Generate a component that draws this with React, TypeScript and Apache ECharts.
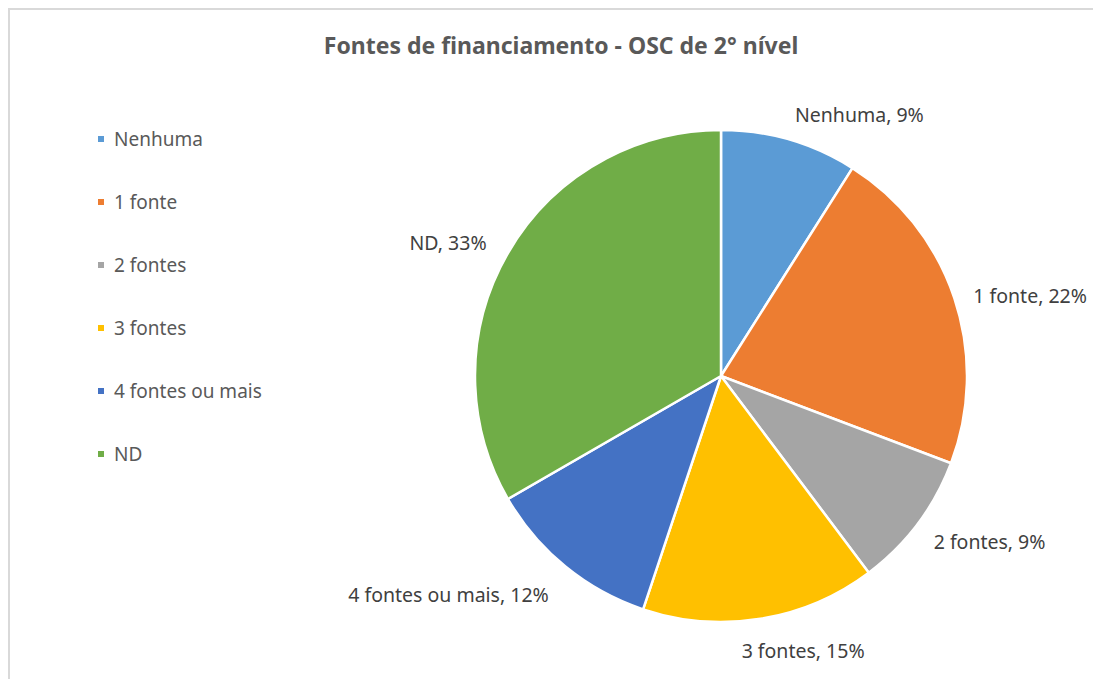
import React, { useEffect, useRef } from "react";
import * as echarts from "echarts";

const categories = ["Nenhuma", "1 fonte", "2 fontes", "3 fontes", "4 fontes ou mais", "ND"];
const counts = [7, 17, 7, 12, 9, 26];
const colors = ["#5B9BD5", "#ED7D31", "#A5A5A5", "#FFC000", "#4472C4", "#70AD47"];
const titleText = "Fontes de financiamento - OSC de 2° nível";

const CX = 711;
const CY = 366;
const R = 246;
const LABEL_GAP = 20;

const clamp = (v: number) => Math.max(0, Math.min(1, v));

export default function App() {
  const ref = useRef<HTMLDivElement>(null);
  useEffect(() => {
    document.body.style.overflow = "hidden";
    if (!ref.current) return;
    const chart = echarts.init(ref.current, undefined, { renderer: "svg" });
    const total = counts.reduce((a, b) => a + b, 0);
    const mids: number[] = [];
    let acc = 0;
    counts.forEach((v) => {
      mids.push(((acc + v / 2) / total) * Math.PI * 2);
      acc += v;
    });
    chart.setOption({
      animation: false,
      color: colors,
      textStyle: { fontFamily: "Noto Sans" },
      title: {
        text: titleText,
        left: 546,
        top: 18,
        textAlign: "center",
        textStyle: { fontSize: 23, fontWeight: "bold", color: "#595959", fontFamily: "Noto Sans" },
      },
      legend: {
        orient: "vertical",
        left: 81,
        top: 114,
        itemWidth: 8,
        itemHeight: 8,
        itemGap: 43,
        icon: "rect",
        data: categories,
        textStyle: { fontSize: 19, color: "#595959", lineHeight: 20, padding: [0, 0, 0, 4] },
      },
      series: [
        {
          type: "pie",
          center: [CX, CY],
          radius: R,
          startAngle: 90,
          clockwise: true,
          percentPrecision: 0,
          itemStyle: { borderColor: "#ffffff", borderWidth: 2.5 },
          label: {
            show: true,
            position: "outside",
            formatter: "{b}, {d}%",
            fontSize: 19.5,
            color: "#404040",
            overflow: "none",
          },
          labelLine: { show: false },
          labelLayout: (params: any) => {
            const a = mids[params.dataIndex];
            const s = Math.sin(a);
            const c = Math.cos(a);
            const d = R + LABEL_GAP;
            const w = params.labelRect.width;
            const h = params.labelRect.height;
            const f = clamp(0.5 - 2 * s);
            const g =
              c > 0.35 ? clamp(0.5 + 1.5 * (c - 0.35)) : c < -0.5 ? clamp(0.5 + 2 * (c + 0.5)) : 0.5;
            return {
              x: CX + d * s - f * w + (s < -0.3 ? -4 : 0),
              y: CY - d * c - g * h + (c > 0 ? 4 : 2),
              align: "left",
              verticalAlign: "top",
            };
          },
          data: categories.map((name, i) => ({ name, value: counts[i] })),
        },
      ],
    });
    return () => chart.dispose();
  }, []);
  return (
    <div
      style={{
        width: 1093,
        height: 671,
        borderTop: "2px solid #d9d9d9",
        borderLeft: "2px solid #d9d9d9",
        boxSizing: "border-box",
        overflow: "hidden",
      }}
    >
      <div ref={ref} style={{ width: 1091, height: 669 }} />
    </div>
  );
}
